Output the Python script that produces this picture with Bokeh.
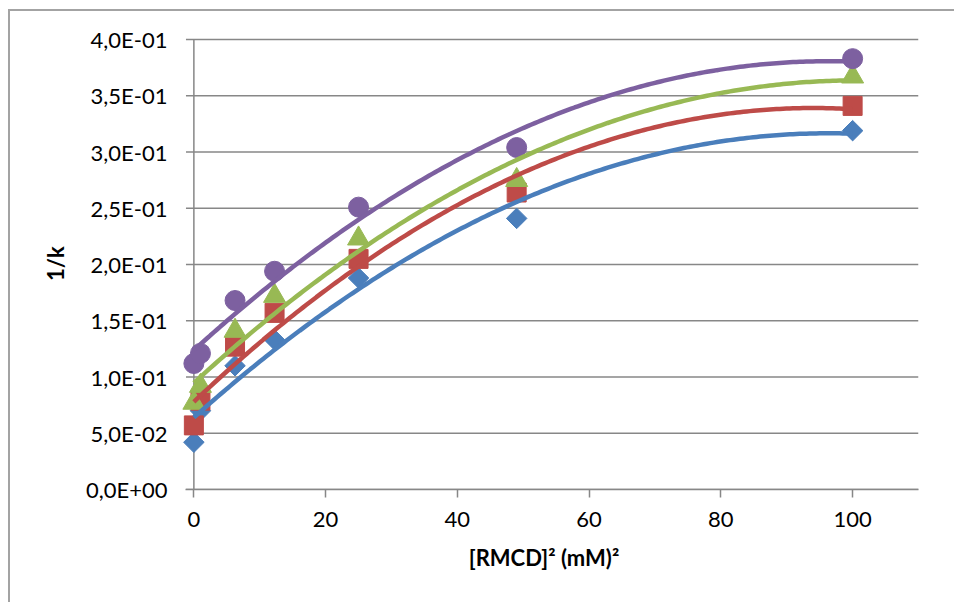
import numpy as np
from bokeh.plotting import figure
from bokeh.models import Range1d, FixedTicker
from bokeh.embed import file_html
from bokeh.resources import INLINE

# ---- data ----
x_vals = [0, 1, 6.25, 12.25, 25, 49, 100]
blue_vals = [0.042, 0.070, 0.110, 0.133, 0.188, 0.241, 0.319]
red_vals = [0.057, 0.079, 0.127, 0.157, 0.205, 0.264, 0.341]
green_vals = [0.077, 0.092, 0.141, 0.172, 0.223, 0.275, 0.367]
purple_vals = [0.112, 0.121, 0.168, 0.194, 0.251, 0.304, 0.383]

y_ticks = [0.0, 0.05, 0.10, 0.15, 0.20, 0.25, 0.30, 0.35, 0.40]
y_tick_labels = ["0,0E+00", "5,0E-02", "1,0E-01", "1,5E-01", "2,0E-01",
                 "2,5E-01", "3,0E-01", "3,5E-01", "4,0E-01"]
x_ticks = [0, 20, 40, 60, 80, 100]
x_min, x_max = 0, 110
y_min, y_max = 0.0, 0.4

FONT = "Lato"
GRID = "#878787"
TICK_LEN = 1.2  # y tick length in x data units (about 8 px)

p = figure(width=946, height=593, output_backend="svg", toolbar_location=None,
           x_range=Range1d(-3.7, x_max), y_range=Range1d(y_min, 0.4018),
           min_border_left=159, min_border_right=38, min_border_top=26,
           min_border_bottom=115)
p.margin = (9, 0, 0, 8)
p.styles = {"border-left": "2px solid #a3a3a3", "border-top": "2px solid #a3a3a3"}
p.outline_line_color = None
p.background_fill_color = "white"
p.border_fill_color = "white"

p.xgrid.grid_line_color = None
p.ygrid.grid_line_color = None

for ax in (p.xaxis[0], p.yaxis[0]):
    ax.minor_tick_line_color = None
    ax.major_label_text_font = FONT
    ax.major_label_text_font_size = "22px"
    ax.major_label_text_color = "black"
    ax.axis_label_text_font = FONT
    ax.axis_label_text_font_size = "22px"
    ax.axis_label_text_font_style = "bold"
    ax.axis_label_text_color = "black"

# y axis: labels only, line / ticks / grid drawn as data segments
p.yaxis.axis_line_color = None
p.yaxis.major_tick_line_color = None
p.yaxis.major_tick_out = 0
p.yaxis.major_tick_in = 0
p.yaxis.ticker = FixedTicker(ticks=y_ticks)
p.yaxis.major_label_overrides = {t: l for t, l in zip(y_ticks, y_tick_labels)}
p.yaxis.major_label_standoff = 2
p.yaxis.axis_label = "1/k"
p.yaxis.axis_label_standoff = 14

p.xaxis.ticker = FixedTicker(ticks=x_ticks)
p.xaxis.bounds = (-TICK_LEN, x_max)
p.xaxis.axis_line_color = GRID
p.xaxis.axis_line_width = 1.5
p.xaxis.major_tick_line_color = GRID
p.xaxis.major_tick_line_width = 1.5
p.xaxis.major_tick_in = 0
p.xaxis.major_tick_out = 8
p.xaxis.major_label_standoff = 14
p.xaxis.axis_label = "[RMCD]² (mM)²"
p.xaxis.axis_label_standoff = 14

# horizontal gridlines with tick marks
p.segment(x0=[-TICK_LEN] * len(y_ticks), x1=[x_max] * len(y_ticks),
          y0=y_ticks, y1=y_ticks, line_color=GRID, line_width=1.5)
# vertical axis line
p.segment(x0=[x_min], x1=[x_min], y0=[y_min], y1=[y_max],
          line_color=GRID, line_width=1.5)

series = [
    (blue_vals, "#4A7EBB", "square", 14.5, np.pi / 4),
    (red_vals, "#BE4B48", "square", 19, 0.0),
    (green_vals, "#98B954", "triangle", 22, 0.0),
    (purple_vals, "#7D60A0", "circle", 20, 0.0),
]

xs = np.array(x_vals)
x_fit = np.linspace(min(x_vals), max(x_vals), 200)
for vals, color, marker, size, ang in series:
    p.scatter(x_vals, vals, marker=marker, size=size, angle=ang,
              fill_color=color, line_color=color)
for vals, color, marker, size, ang in series:
    coef = np.polyfit(xs, np.array(vals), 2)
    p.line(x_fit, np.polyval(coef, x_fit), line_color=color, line_width=4.5)

open("out.html", "w").write(file_html(p, INLINE))
